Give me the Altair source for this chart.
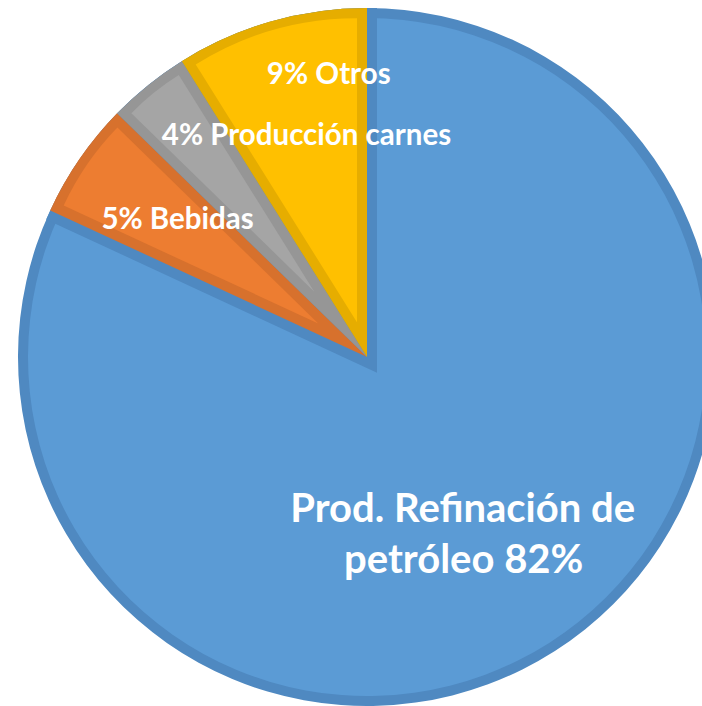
import math
import altair as alt
import numpy as np
import pandas as pd

# ---- data ----
categories = ["Prod. Refinación de petróleo", "Bebidas", "Producción carnes", "Otros"]
values = [81.9, 5.4, 3.8, 8.9]
label_lines = [["Prod. Refinación de", "petróleo 82%"], ["5% Bebidas"], ["4% Producción carnes"], ["9% Otros"]]
fill_colors = ["#5B9BD5", "#ED7D31", "#A5A5A5", "#FFC000"]
edge_colors = ["#4F89C1", "#D7712D", "#969696", "#E6AD00"]

# ---- layout / style ----
CX, CY, R, D = 367, 357, 349, 10
W, H = 702, 706
FONT = "Lato"

vals = np.array(values, dtype=float)
t1 = np.cumsum(vals) / vals.sum() * 100
t0 = t1 - vals / vals.sum() * 100
mid = (t0 + t1) / 2 / 100 * 2 * math.pi
half = (t1 - t0) / 2 / 100 * 2 * math.pi

df = pd.DataFrame({
    "cat": categories,
    "t0": t0,
    "t1": t1,
    "tm": (t0 + t1) / 2,
    "edge": edge_colors,
    "light": fill_colors,
})
# inner (lighter) wedge of the small slices: edges inset parallel by D
s = D / np.sin(half)
df["cx"] = CX + s * np.sin(mid)
df["cy"] = CY - s * np.cos(mid)
df["r_in"] = np.sqrt((R - D) ** 2 - D ** 2) - D / np.tan(half)

theta_scale = alt.Scale(domain=[0, 100], range=[0, 2 * math.pi])

def th(field="t0"):
    return alt.Theta(f"{field}:Q", scale=theta_scale)

big = df.iloc[[0]]
small = df.iloc[1:]

base = alt.Chart(df).mark_arc(radius=R).encode(
    theta=th("t0"), theta2="t1", fill=alt.Fill("edge:N", scale=None),
    x=alt.value(CX), y=alt.value(CY))

blue_light = alt.Chart(big).mark_arc(radius=R - D).encode(
    theta=th("t0"), theta2="t1", fill=alt.Fill("light:N", scale=None),
    x=alt.value(CX), y=alt.value(CY))

# band of the big slice along its two straight edges
rest = pd.DataFrame({"t0": [t1[0]], "t1": [100.0], "edge": [edge_colors[0]]})
blue_band = alt.Chart(rest).mark_arc(
    radius=R - D, strokeWidth=2 * D, strokeJoin="miter").encode(
    theta=th("t0"), theta2="t1",
    fill=alt.Fill("edge:N", scale=None), stroke=alt.Stroke("edge:N", scale=None),
    x=alt.value(CX), y=alt.value(CY))

small_dark = alt.Chart(small).mark_arc(radius=R).encode(
    theta=th("t0"), theta2="t1", fill=alt.Fill("edge:N", scale=None),
    x=alt.value(CX), y=alt.value(CY))

small_light = alt.Chart(small).mark_arc().encode(
    theta=th("t0"), theta2="t1", fill=alt.Fill("light:N", scale=None),
    x=alt.X("cx:Q", scale=None), y=alt.Y("cy:Q", scale=None),
    radius=alt.Radius("r_in:Q", scale=None))

def label(i, text, radius, dx, dy, size):
    d = pd.DataFrame({"tm": [df["tm"][i]], "label": [text]})
    return alt.Chart(d).mark_text(
        radius=radius, dx=dx, dy=dy, font=FONT, fontWeight="bold", fontSize=size,
        color="white", align="center", baseline="alphabetic").encode(
        theta=th("tm"), text="label:N", x=alt.value(CX), y=alt.value(CY))

texts = [
    label(0, label_lines[0][0], 200, -12, -4, 40),
    label(0, label_lines[0][1], 200, -11, 47, 40),
    label(1, label_lines[1][0], 230, 0, 2, 29.5),
    label(2, label_lines[2][0], 200, 65, -56, 29.5),
    label(3, label_lines[3][0], 280, 39, -4, 29.5),
]

chart = alt.layer(base, blue_light, blue_band, small_dark, small_light, *texts).properties(
    width=W, height=H, padding=0, autosize=alt.AutoSizeParams(type="none"),
    background="white").configure_view(stroke=None)

chart.save("out.html", embed_options={"renderer": "svg", "actions": False})
